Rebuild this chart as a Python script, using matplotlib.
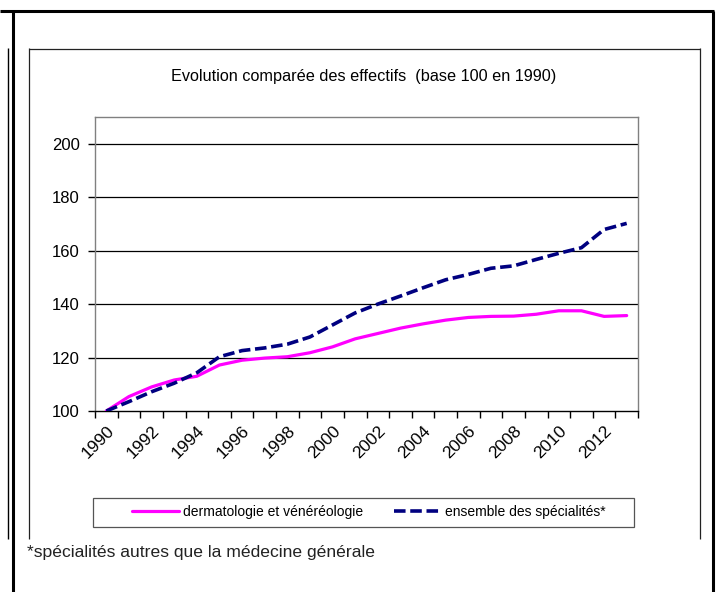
import matplotlib
matplotlib.use("Agg")
import matplotlib.pyplot as plt
from matplotlib.lines import Line2D
from matplotlib.patches import Rectangle

plt.rcParams['font.family'] = ['Liberation Sans', 'DejaVu Sans']

years = list(range(1990, 2014))
tick_labels = [str(y) for y in range(1990, 2013, 2)]
dermato = [100, 105.4, 109, 111.6, 113, 117.2, 119, 119.8, 120.3, 121.8, 124, 127,
           129, 131, 132.6, 134, 135, 135.4, 135.5, 136.2, 137.5, 137.5, 135.4, 135.7]
ensemble = [100, 103.5, 107.2, 110.4, 114.3, 120.3, 122.6, 123.6, 125, 127.7, 132.2, 136.7,
            140, 143, 146.1, 149.1, 151.1, 153.4, 154.3, 156.7, 159, 161.1, 167.9, 170.2]
series_names = ["dermatologie et vénéréologie", "ensemble des spécialités*"]
title = "Evolution comparée des effectifs  (base 100 en 1990)"
footnote = "*spécialités autres que la médecine générale"

W, H = 720, 592
fig = plt.figure(figsize=(W / 100, H / 100), dpi=100)

def fx(px):
    return px / W

def fy(py):
    return 1 - py / H

# surrounding frame lines (table cell + chart area)
def fline(x0, y0, x1, y1, lw, color='black'):
    fig.add_artist(Line2D([fx(x0), fx(x1)], [fy(y0), fy(y1)], transform=fig.transFigure,
                          color=color, lw=lw, solid_capstyle='butt'))

fline(0, 11, 714, 11, 2.2)
fline(13, 11, 13, 592, 2.2)
fline(712.5, 11, 712.5, 592, 2.2)
fline(8, 48, 8, 539, 1.0)
fline(29, 48.5, 700, 48.5, 0.9, '#222222')
fline(29, 48, 29, 539, 0.9, '#222222')
fline(700, 48, 700, 539, 0.9, '#222222')

ax = fig.add_axes([fx(95), fy(411), fx(638) - fx(95), fy(117) - fy(411)])
x = list(range(len(years)))
ax.plot(x, dermato, color='#FF00FF', lw=2.3, solid_capstyle='round', label=series_names[0], zorder=3)
ax.plot(x, ensemble, color='#000080', lw=2.6, linestyle=(0, (3.2, 1.3)), label=series_names[1], zorder=4)

ax.set_xlim(-0.5, len(years) - 0.5)
ax.set_ylim(100, 210)
ax.set_yticks([100, 120, 140, 160, 180, 200])
ax.set_yticklabels(['100', '120', '140', '160', '180', '200'], fontsize=12)
for v in [120, 140, 160, 180, 200]:
    ax.axhline(v, color='black', lw=0.9, zorder=1)

ax.set_xticks([i - 0.5 for i in range(len(years) + 1)])
ax.set_xticklabels([])
ax.set_xticks(list(range(0, len(years) - 1, 2)), minor=True)
ax.set_xticklabels(tick_labels, minor=True, rotation=45, ha='right', va='top',
                   rotation_mode='anchor', fontsize=12.5)
ax.tick_params(axis='x', which='minor', length=0, pad=9)
ax.tick_params(axis='x', which='major', length=5, width=1, direction='out', color='black')
ax.tick_params(axis='y', length=5, width=1, direction='out', color='black', pad=6)

for s in ['left', 'top', 'right']:
    ax.spines[s].set_color('#808080')
    ax.spines[s].set_linewidth(1.0)
ax.spines['bottom'].set_color('black')
ax.spines['bottom'].set_linewidth(1.0)

fig.text(fx(364), fy(77), title, ha='center', va='center', fontsize=11.7)

# legend
fig.add_artist(Rectangle((fx(93), fy(527)), fx(634) - fx(93), fy(498) - fy(527),
                         transform=fig.transFigure, fill=False, edgecolor='#555555', lw=0.9))
handles, labels = ax.get_legend_handles_labels()
leg = fig.legend(handles, labels, loc='center', bbox_to_anchor=(fx(369), fy(512)),
                 ncol=2, frameon=False, fontsize=10, handlelength=3.4, handletextpad=0.3,
                 columnspacing=2.2, borderpad=0)

fig.text(fx(27), fy(552), footnote, ha='left', va='center', fontsize=12.6, color='#222222')

fig.savefig('out.png', dpi=100)
